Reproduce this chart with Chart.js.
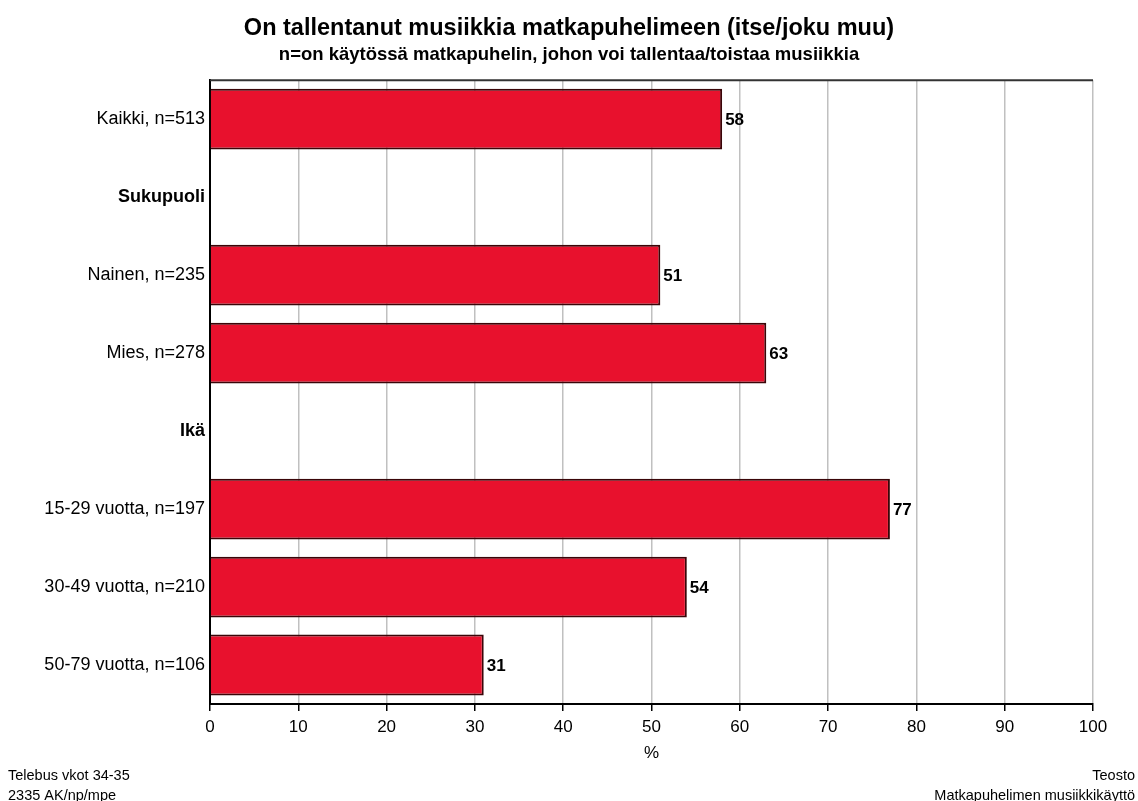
<!DOCTYPE html>
<html lang="fi">
<head>
    <meta charset="UTF-8">
    <title>On tallentanut musiikkia matkapuhelimeen</title>
    <script src="https://cdn.jsdelivr.net/npm/chart.js"></script>
    <style>
        html, body {
            margin: 0;
            padding: 0;
            background: #fff;
        }
        #kaavio {
            display: block;
        }
    </style>
</head>
<body>
    <canvas id="kaavio" width="1138" height="801"></canvas>

    <script>
        // Luokat (väliotsikoilla ei ole arvoa)
        const luokat = [
            'Kaikki, n=513',
            'Sukupuoli',
            'Nainen, n=235',
            'Mies, n=278',
            'Ikä',
            '15-29 vuotta, n=197',
            '30-49 vuotta, n=210',
            '50-79 vuotta, n=106'
        ];
        const valiotsikot = ['Sukupuoli', 'Ikä'];
        const osuudet = [58, null, 51, 63, null, 77, 54, 31];
        const xTikit = [0, 10, 20, 30, 40, 50, 60, 70, 80, 90, 100];

        const otsikko = 'On tallentanut musiikkia matkapuhelimeen (itse/joku muu)';
        const alaotsikko = 'n=on käytössä matkapuhelin, johon voi tallentaa/toistaa musiikkia';
        const alatunnisteVasen = ['Telebus vkot 34-35', '2335 AK/np/mpe'];
        const alatunnisteOikea = ['Teosto', 'Matkapuhelimen musiikkikäyttö'];

        const fontti = 'Arial, "Liberation Sans", sans-serif';

        // Arvot palkkien perään, yläreuna ja alatunnisteet
        const lisat = {
            id: 'lisat',
            afterDatasetsDraw(chart) {
                const ctx = chart.ctx;
                const meta = chart.getDatasetMeta(0);
                ctx.save();
                ctx.fillStyle = '#000';
                ctx.font = 'bold 17px ' + fontti;
                ctx.textAlign = 'left';
                ctx.textBaseline = 'middle';
                meta.data.forEach((palkki, i) => {
                    if (osuudet[i] === null) return;
                    ctx.fillText(String(osuudet[i]), palkki.x + 3, palkki.y + 1);
                });

                const a = chart.chartArea;
                ctx.strokeStyle = '#333';
                ctx.lineWidth = 2;
                ctx.beginPath();
                ctx.moveTo(a.left, a.top);
                ctx.lineTo(a.right, a.top);
                ctx.stroke();
                ctx.restore();
            },
            afterDraw(chart) {
                const ctx = chart.ctx;
                ctx.save();
                ctx.fillStyle = '#000';
                ctx.font = '14.5px ' + fontti;
                ctx.textBaseline = 'middle';
                ctx.textAlign = 'left';
                alatunnisteVasen.forEach((t, i) => ctx.fillText(t, 8, 776 + i * 20));
                ctx.textAlign = 'right';
                alatunnisteOikea.forEach((t, i) => ctx.fillText(t, 1135, 776 + i * 20));
                ctx.restore();
            }
        };

        const ctx = document.getElementById('kaavio').getContext('2d');

        new Chart(ctx, {
            type: 'bar',
            data: {
                labels: luokat,
                datasets: [{
                    data: osuudet,
                    backgroundColor: '#e8112d',
                    borderColor: '#3a0508',
                    borderWidth: 2,
                    barPercentage: 0.78,
                    categoryPercentage: 1
                }]
            },
            options: {
                indexAxis: 'y',
                responsive: false,
                animation: false,
                layout: {
                    padding: { left: 45, right: 45, top: 0, bottom: 0 }
                },
                scales: {
                    x: {
                        min: 0,
                        max: 100,
                        afterBuildTicks: scale => {
                            scale.ticks = xTikit.map(v => ({ value: v }));
                        },
                        afterFit: scale => { scale.height = 97; },
                        grid: {
                            color: '#c0c0c0',
                            lineWidth: 1.5,
                            tickColor: '#000',
                            tickLength: 7,
                            tickWidth: 1.5
                        },
                        border: { color: '#000', width: 2 },
                        ticks: {
                            color: '#000',
                            padding: 6,
                            maxRotation: 0,
                            font: { family: fontti, size: 17 }
                        },
                        title: {
                            display: true,
                            text: '%',
                            color: '#000',
                            padding: { top: 3, bottom: 37 },
                            font: { family: fontti, size: 17 }
                        }
                    },
                    y: {
                        afterFit: scale => { scale.width = 165; },
                        grid: { display: false, drawTicks: false },
                        border: { color: '#000', width: 2 },
                        ticks: {
                            color: '#000',
                            padding: 5,
                            autoSkip: false,
                            font: c => ({
                                family: fontti,
                                size: 18,
                                weight: valiotsikot.includes(luokat[c.index]) ? 'bold' : 'normal'
                            })
                        }
                    }
                },
                plugins: {
                    legend: { display: false },
                    tooltip: { enabled: false },
                    title: {
                        display: true,
                        text: otsikko,
                        color: '#000',
                        font: { family: fontti, size: 23.5, weight: 'bold' },
                        padding: { top: 14, bottom: 0 }
                    },
                    subtitle: {
                        display: true,
                        text: alaotsikko,
                        color: '#000',
                        font: { family: fontti, size: 18.5, weight: 'bold' },
                        padding: { top: 1.5, bottom: 14.3 }
                    }
                }
            },
            plugins: [lisat]
        });
    </script>
</body>
</html>
